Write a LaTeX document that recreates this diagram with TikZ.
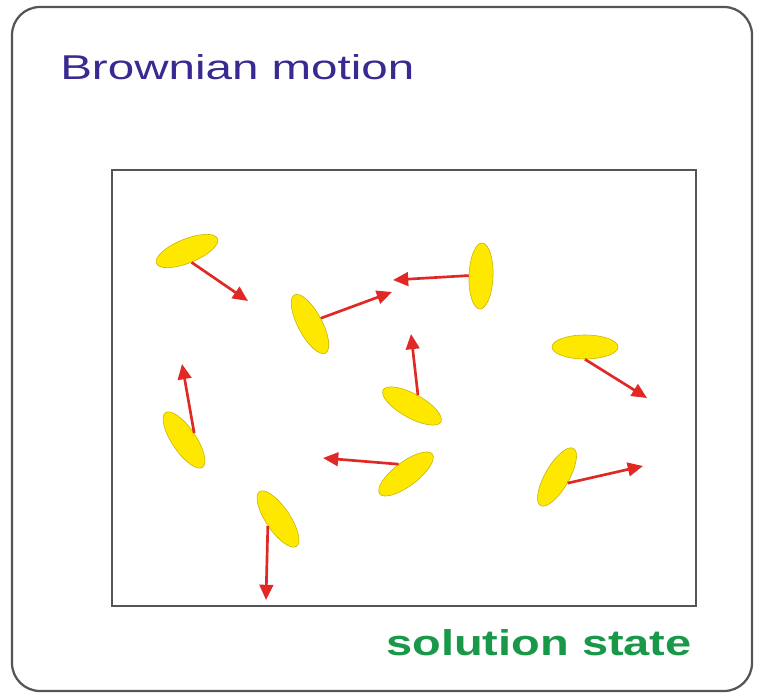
\documentclass[tikz,border=0pt]{standalone}
\usepackage{fontspec}
\setmainfont{Liberation Sans}
\usetikzlibrary{arrows.meta}
\usetikzlibrary{shapes}
\definecolor{titleblue}{RGB}{55,42,145}
\definecolor{solgreen}{RGB}{24,152,72}
\definecolor{arrowred}{RGB}{224,40,36}
\definecolor{molyellow}{RGB}{255,232,0}
\definecolor{molrim}{RGB}{200,178,0}
\definecolor{framegray}{RGB}{85,85,85}

\begin{document}
\begin{tikzpicture}[x=0.025cm, y=-0.025cm,
    mol/.style={ellipse, draw=molrim, fill=molyellow, line width=0.4pt,
        minimum width=1.65cm, minimum height=0.6cm, inner sep=0pt},
    push/.style={arrowred, line width=1.9pt, -{Triangle[length=0.38cm, width=0.34cm]}}]
    \useasboundingbox (0,0) rectangle (764,695);

    % Frames
    \draw[framegray, line width=1.6pt, rounded corners=0.7cm] (12,7) rectangle (752,691);
    \draw[framegray, line width=2pt] (112,170) rectangle (696,606);

    % Labels
    \node[anchor=base west, inner sep=0pt, text=titleblue, font=\fontsize{24.5}{28}\selectfont]
        (title) at (60,80) {\scalebox{1.38}[1]{Brownian motion}};
    \node[anchor=base east, inner sep=0pt, text=solgreen, font=\bfseries\fontsize{25.5}{30}\selectfont]
        (state) at (692,655) {\scalebox{1.31}[1]{solution state}};

    % Molecules
    \node[mol, rotate=22] (m1) at (187,251) {};
    \node[mol, rotate=-62] (m2) at (310,324) {};
    \node[mol, rotate=88] (m3) at (481,276) {};
    \node[mol] (m4) at (585,347) {};
    \node[mol, rotate=60] (m5) at (557,477) {};
    \node[mol, rotate=-29] (m6) at (412,406) {};
    \node[mol, rotate=-56] (m7) at (184,440) {};
    \node[mol, rotate=37] (m8) at (406,474) {};
    \node[mol, rotate=-56] (m9) at (278,519) {};

    % Displacements
    \coordinate (t1) at (248,301);
    \coordinate (t2) at (392,292);
    \coordinate (t3) at (393,280);
    \coordinate (t4) at (647,398);
    \coordinate (t5) at (643,466);
    \coordinate (t6) at (411,334);
    \coordinate (t7) at (182,364);
    \coordinate (t8) at (323,458);
    \coordinate (t9) at (266,600);
    \draw[push] (m1.south) -- (t1);
    \draw[push] (m2.north) -- (t2);
    \draw[push] (m3.north) -- (t3);
    \draw[push] (m4.south) -- (t4);
    \draw[push] (m5.south) -- (t5);
    \draw[push] (m6.north) -- (t6);
    \draw[push] (m7.north) -- (t7);
    \draw[push] (m8.north) -- (t8);
    \draw[push] (m9.south) -- (t9);
\end{tikzpicture}
\end{document}
